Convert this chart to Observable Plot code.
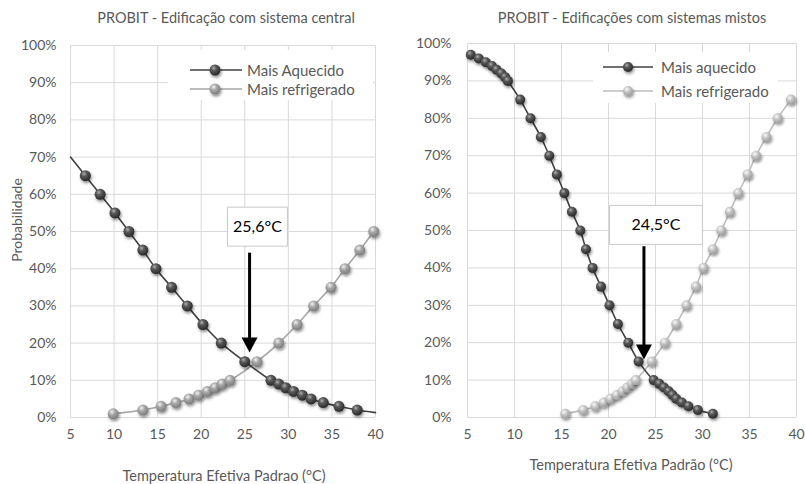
<!DOCTYPE html>
<html>
<head>
<meta charset="utf-8">
<script src="https://cdn.jsdelivr.net/npm/d3@7"></script>
<script src="https://cdn.jsdelivr.net/npm/@observablehq/plot@0.6"></script>
<style>
  html, body { margin: 0; padding: 0; background: #fff; }
  body { width: 805px; height: 484px; overflow: hidden; font-family: Lato, "Open Sans", sans-serif; color: #595959; }
  #wrap { position: relative; width: 805px; height: 484px; }
  .panel { position: absolute; top: 0; }
  .title, .xlabel { position: absolute; transform: translate(-50%, -50%); white-space: nowrap; font-size: 14.5px; line-height: 1; color: #595959; }
  .ylabel { position: absolute; transform: translate(-50%, -50%) rotate(-90deg); white-space: nowrap; font-size: 14px; line-height: 1; color: #595959; }
  .legend { position: absolute; background: #fff; }
  .legend svg { position: absolute; left: 0; top: 0; overflow: visible; }
  .legend .lt { position: absolute; font-size: 15px; color: #595959; transform: translateY(-50%); white-space: nowrap; }
</style>
</head>
<body>
<svg width="0" height="0" style="position:absolute">
  <defs>
    <radialGradient id="gDark" cx="38%" cy="32%" r="70%">
      <stop offset="0%" stop-color="#b0b0b0"/>
      <stop offset="35%" stop-color="#5a5a5a"/>
      <stop offset="100%" stop-color="#262626"/>
    </radialGradient>
    <radialGradient id="gLight" cx="38%" cy="32%" r="70%">
      <stop offset="0%" stop-color="#f2f2f2"/>
      <stop offset="40%" stop-color="#a8a8a8"/>
      <stop offset="100%" stop-color="#7a7a7a"/>
    </radialGradient>
    <radialGradient id="gLighter" cx="38%" cy="32%" r="70%">
      <stop offset="0%" stop-color="#fafafa"/>
      <stop offset="45%" stop-color="#c4c4c4"/>
      <stop offset="100%" stop-color="#9a9a9a"/>
    </radialGradient>
    <filter id="shadow" x="-60%" y="-60%" width="220%" height="220%">
      <feDropShadow dx="1" dy="2" stdDeviation="1.5" flood-color="#000" flood-opacity="0.45"/>
    </filter>
  </defs>
</svg>
<div id="wrap"></div>
<script>
// ---------- data ----------
const xTicks = [5, 10, 15, 20, 25, 30, 35, 40];
const yTicks = [0, 0.1, 0.2, 0.3, 0.4, 0.5, 0.6, 0.7, 0.8, 0.9, 1.0];

const titles = ["PROBIT - Edificação com sistema central", "PROBIT - Edificações com sistemas mistos"];
const xLabels = ["Temperatura Efetiva Padrao (°C)", "Temperatura Efetiva Padrão (°C)"];
const yLabel = "Probabilidade";
const legendLabels = [["Mais Aquecido", "Mais refrigerado"], ["Mais aquecido", "Mais refrigerado"]];

// Left: sistema central
const leftHotX = [6.7, 8.4, 10.1, 11.7, 13.3, 14.8, 16.6, 18.4, 20.2, 22.3, 25.0, 28.0, 28.9, 29.7, 30.6, 31.6, 32.6, 34.0, 35.8, 37.9];
const leftHotY = [0.65, 0.60, 0.55, 0.50, 0.45, 0.40, 0.35, 0.30, 0.25, 0.20, 0.15, 0.10, 0.09, 0.08, 0.07, 0.06, 0.05, 0.04, 0.03, 0.02];
const leftHotTailX = [5, 40];       // line extends to chart edges
const leftHotTailY = [0.70, 0.013];
const leftColdX = [9.9, 13.3, 15.4, 17.1, 18.6, 19.7, 20.7, 21.6, 22.4, 23.3, 26.4, 28.9, 31.0, 32.9, 34.9, 36.5, 38.2, 39.8];
const leftColdY = [0.01, 0.02, 0.03, 0.04, 0.05, 0.06, 0.07, 0.08, 0.09, 0.10, 0.15, 0.20, 0.25, 0.30, 0.35, 0.40, 0.45, 0.50];

// Right: sistemas mistos
const rightHotX = [5.35, 6.2, 6.95, 7.6, 8.1, 8.6, 9.0, 9.3, 10.6, 11.7, 12.8, 13.7, 14.5, 15.3, 16.1, 17.0, 17.6, 18.3, 19.2, 20.1, 21.0, 22.1, 23.2, 24.8, 25.4, 25.9, 26.4, 26.8, 27.2, 27.8, 28.5, 29.5, 31.1];
const rightHotY = [0.97, 0.96, 0.95, 0.94, 0.93, 0.92, 0.91, 0.90, 0.85, 0.80, 0.75, 0.70, 0.65, 0.60, 0.55, 0.50, 0.45, 0.40, 0.35, 0.30, 0.25, 0.20, 0.15, 0.10, 0.09, 0.08, 0.07, 0.06, 0.05, 0.04, 0.03, 0.02, 0.01];
const rightColdX = [15.4, 17.3, 18.6, 19.5, 20.2, 20.9, 21.5, 22.0, 22.5, 22.9, 24.6, 26.0, 27.2, 28.3, 29.3, 30.1, 31.1, 32.0, 32.9, 33.8, 34.8, 35.7, 36.8, 38.0, 39.4];
const rightColdY = [0.01, 0.02, 0.03, 0.04, 0.05, 0.06, 0.07, 0.08, 0.09, 0.10, 0.15, 0.20, 0.25, 0.30, 0.35, 0.40, 0.45, 0.50, 0.55, 0.60, 0.65, 0.70, 0.75, 0.80, 0.85];

// Annotations (crossing temperature)
const annotLabels = ["25,6°C", "24,5°C"];
const annotLabelX = [26.45, 25.05];
const annotLabelY = [0.513, 0.515];
const arrowX = [25.55, 23.77];
const arrowTopY = [0.427, 0.442];
const arrowTipY = [0.175, 0.155];

// ---------- helpers ----------
const zip = (xs, ys) => xs.map((x, i) => ({x, y: ys[i]}));
const boxSymbol = (w, h) => ({draw(ctx) { ctx.rect(-w / 2, -h / 2, w, h); }});
const downTriangle = (w, h) => ({draw(ctx) { ctx.moveTo(0, 0); ctx.lineTo(-w / 2, -h); ctx.lineTo(w / 2, -h); ctx.closePath(); }});

const cfg = [
  {left: 0, width: 400, height: 460, ml: 70, mr: 25, mt: 45, mb: 43, ytp: 14, r: 5.5,
   hot: leftHotX, hotY: leftHotY, cold: leftColdX, coldY: leftColdY,
   hotLine: [zip([leftHotTailX[0]], [leftHotTailY[0]]), zip(leftHotX, leftHotY), zip([leftHotTailX[1]], [leftHotTailY[1]])].flat(),
   hotStroke: "#404040", coldStroke: "#a6a6a6", coldFill: "url(#gLight)", boxW: 60, boxH: 39,
   title: [226, 18], xlab: [224, 476], legend: {x: 168, y: 50, w: 205, h: 50, l1: 190, l2: 242, d: 215, t: 247, r1: 20, r2: 39, r: 5.5}},
  {left: 400, width: 405, height: 460, ml: 67, mr: 9, mt: 43, mb: 43, ytp: 16, r: 5,
   hot: rightHotX, hotY: rightHotY, cold: rightColdX, coldY: rightColdY,
   hotLine: zip(rightHotX, rightHotY),
   hotStroke: "#404040", coldStroke: "#bdbdbd", coldFill: "url(#gLighter)", boxW: 93, boxH: 39,
   title: [632, 18], xlab: [631, 465], legend: {x: 593, y: 52, w: 185, h: 51, l1: 603, l2: 653, d: 628, t: 661, r1: 15, r2: 39, r: 5}}
];

const wrap = document.getElementById("wrap");

cfg.forEach((c, i) => {
  const hotPts = zip(c.hot, c.hotY);
  const coldPts = zip(c.cold, c.coldY);
  const annot = [{x: annotLabelX[i], y: annotLabelY[i], label: annotLabels[i], ax: arrowX[i], ay1: arrowTopY[i], ay2: arrowTipY[i]}];

  const plot = Plot.plot({
    width: c.width, height: c.height,
    marginLeft: c.ml, marginRight: c.mr, marginTop: c.mt, marginBottom: c.mb,
    style: {fontFamily: "Lato, 'Open Sans', sans-serif", fontSize: "14px", color: "#595959", background: "transparent", overflow: "visible"},
    x: {domain: [5, 40]},
    y: {domain: [0, 1]},
    marks: [
      Plot.gridX(xTicks, {stroke: "#d9d9d9", strokeOpacity: 1, strokeWidth: 1}),
      Plot.gridY(yTicks, {stroke: "#d9d9d9", strokeOpacity: 1, strokeWidth: 1}),
      Plot.axisX(xTicks, {tickSize: 0, tickPadding: 12, label: null, fill: "#595959", tickFormat: d => String(d)}),
      Plot.axisY(yTicks, {tickSize: 0, tickPadding: c.ytp, label: null, fill: "#595959", tickFormat: d => Math.round(d * 100) + "%"}),
      Plot.line(coldPts, {x: "x", y: "y", stroke: c.coldStroke, strokeWidth: 1.6, curve: "catmull-rom"}),
      Plot.line(c.hotLine, {x: "x", y: "y", stroke: c.hotStroke, strokeWidth: 1.6, curve: "catmull-rom"}),
      Plot.dot(coldPts, {x: "x", y: "y", r: c.r, fill: c.coldFill, stroke: "none"}),
      Plot.dot(hotPts, {x: "x", y: "y", r: c.r, fill: "url(#gDark)", stroke: "none"}),
      Plot.dot(annot, {x: "x", y: "y", r: 1, symbol: boxSymbol(c.boxW, c.boxH), fill: "white", stroke: "#c8c8c8", strokeWidth: 1}),
      Plot.text(annot, {x: "x", y: "y", text: "label", fontSize: 16, fill: "#000", fontFamily: "Lato, 'Open Sans', sans-serif"}),
      Plot.link(annot, {x1: "ax", x2: "ax", y1: "ay1", y2: "ay2", stroke: "#000", strokeWidth: 3, dy: -6}),
      Plot.dot(annot, {x: "ax", y: "ay2", r: 1, symbol: downTriangle(16, 15), fill: "#000", stroke: "none"})
    ]
  });
  // shadow on data spheres
  d3.select(plot).selectAll("g[aria-label='dot'] circle").attr("filter", "url(#shadow)");
  plot.classList.add("panel");
  plot.style.left = c.left + "px";
  wrap.appendChild(plot);

  const t = document.createElement("div");
  t.className = "title"; t.textContent = titles[i];
  t.style.left = c.title[0] + "px"; t.style.top = c.title[1] + "px";
  wrap.appendChild(t);

  const xl = document.createElement("div");
  xl.className = "xlabel"; xl.textContent = xLabels[i];
  xl.style.left = c.xlab[0] + "px"; xl.style.top = c.xlab[1] + "px";
  wrap.appendChild(xl);

  // legend
  const L = c.legend;
  const lg = document.createElement("div");
  lg.className = "legend";
  lg.style.left = L.x + "px"; lg.style.top = L.y + "px"; lg.style.width = L.w + "px"; lg.style.height = L.h + "px";
  const ns = "http://www.w3.org/2000/svg";
  const s = document.createElementNS(ns, "svg");
  s.setAttribute("width", L.w); s.setAttribute("height", L.h);
  [[L.r1, c.hotStroke, "url(#gDark)"], [L.r2, c.coldStroke, c.coldFill]].forEach(([ry, st, fi], k) => {
    const ln = document.createElementNS(ns, "line");
    ln.setAttribute("x1", L.l1 - L.x); ln.setAttribute("x2", L.l2 - L.x);
    ln.setAttribute("y1", ry); ln.setAttribute("y2", ry);
    ln.setAttribute("stroke", st); ln.setAttribute("stroke-width", 1.6);
    s.appendChild(ln);
    const ci = document.createElementNS(ns, "circle");
    ci.setAttribute("cx", L.d - L.x); ci.setAttribute("cy", ry); ci.setAttribute("r", L.r);
    ci.setAttribute("fill", fi); ci.setAttribute("filter", "url(#shadow)");
    s.appendChild(ci);
    const tx = document.createElement("div");
    tx.className = "lt"; tx.textContent = legendLabels[i][k];
    tx.style.left = (L.t - L.x) + "px"; tx.style.top = ry + "px";
    lg.appendChild(tx);
  });
  lg.appendChild(s);
  wrap.appendChild(lg);
});

const yl = document.createElement("div");
yl.className = "ylabel"; yl.textContent = yLabel;
yl.style.left = "17px"; yl.style.top = "220px";
wrap.appendChild(yl);
</script>
</body>
</html>
